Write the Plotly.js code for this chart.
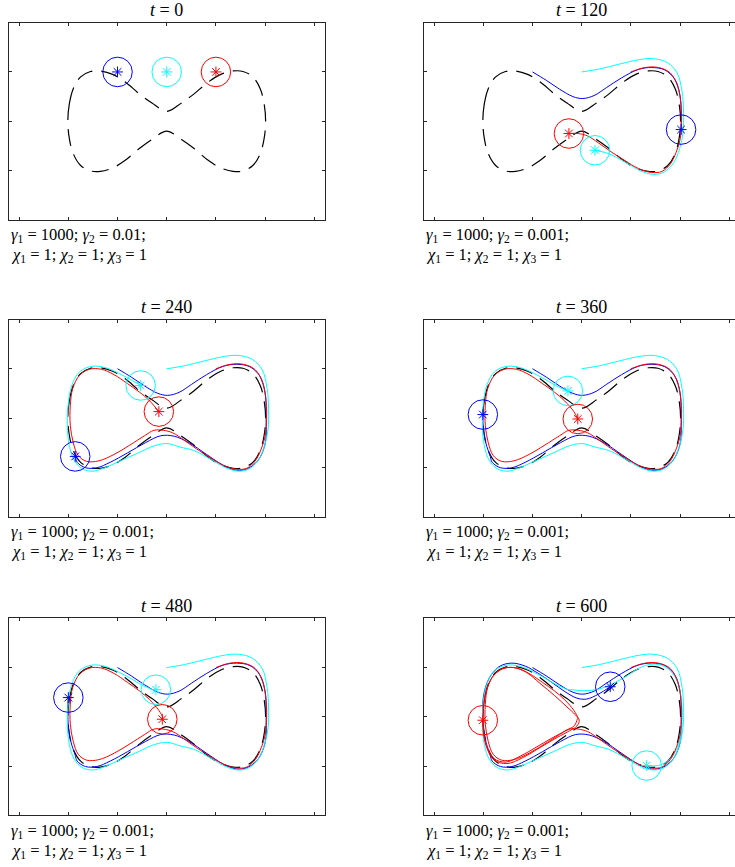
<!DOCTYPE html>
<html>
<head>
<meta charset="utf-8">
<script src="https://cdn.plot.ly/plotly-3.0.1.min.js"></script>
<style>
  html, body { margin: 0; padding: 0; background: #fff; }
  #chart { width: 735px; height: 867px; }
</style>
</head>
<body>
<div id="chart"></div>
<script>
// Snapshot times and controller gains shown under each panel
const snapshotTimes = [0, 120, 240, 360, 480, 600];
const gamma1Values = ['1000', '1000', '1000', '1000', '1000', '1000'];
const gamma2Values = ['0.01', '0.001', '0.001', '0.001', '0.001', '0.001'];
const chiValues = ['1', '1', '1'];

// Reference path (closed peanut-shaped loop)
const refX = [-2.01, -1.98, -1.9, -1.75, -1.55, -1.35, -1.1, -0.85, -0.55, -0.3, 0, 0.3, 0.55, 0.85, 1.1, 1.35, 1.55, 1.75, 1.9, 1.98, 2.01,
              1.98, 1.9, 1.75, 1.55, 1.35, 1.1, 0.85, 0.55, 0.3, 0, -0.3, -0.55, -0.85, -1.1, -1.35, -1.55, -1.75, -1.9, -1.98, -2.01];
const refY = [0, 0.35, 0.66, 0.9, 1.01, 1.02, 0.95, 0.8, 0.55, 0.37, 0.2, 0.37, 0.55, 0.8, 0.95, 1.02, 1.01, 0.9, 0.66, 0.35, 0,
              -0.35, -0.66, -0.9, -1.01, -1.02, -0.95, -0.8, -0.55, -0.37, -0.2, -0.37, -0.55, -0.8, -0.95, -1.02, -1.01, -0.9, -0.66, -0.35, 0];

// Agent 1 (blue) trajectory and the sample index reached at each snapshot time
const blueX = [-1.0, -0.72, -0.45, -0.18, 0.02, 0.25, 0.5, 0.81, 1.15, 1.42, 1.69, 1.9, 2.0, 2.02, 2.02,
               2.02, 1.96, 1.84, 1.64, 1.42, 1.15, 0.81, 0.45, 0.15, -0.12, -0.43, -0.8, -1.15, -1.42, -1.65, -1.82, -1.86,
               -1.95, -2.0, -2.01,
               -2.01, -2.0,
               -1.95, -1.84, -1.66, -1.42, -1.15, -0.88, -0.61, -0.34, -0.1, 0.1, 0.34, 0.58];
const blueY = [1.0, 0.83, 0.65, 0.5, 0.46, 0.52, 0.68, 0.88, 1.05, 1.09, 1.04, 0.84, 0.51, 0.17, -0.17,
               -0.4, -0.66, -0.88, -1.03, -1.06, -0.96, -0.74, -0.5, -0.37, -0.36, -0.5, -0.71, -0.9, -1.01, -1.01, -0.9, -0.78,
               -0.5, -0.2, 0.07,
               0.25, 0.39,
               0.62, 0.85, 1.03, 1.09, 1.03, 0.88, 0.7, 0.51, 0.38, 0.36, 0.46, 0.61];
const blueIdx = [0, 14, 31, 34, 36, 48];

// Agent 2 (cyan)
const cyanX = [0.0, 0.36, 0.77, 1.17, 1.46, 1.74, 1.94, 2.04, 2.07, 2.06, 1.99, 1.87, 1.68, 1.46, 1.2, 0.9, 0.55, 0.27,
               0.02, -0.24, -0.58, -0.92, -1.26, -1.5, -1.72, -1.88, -1.98, -2.02, -2.0, -1.93, -1.77, -1.52, -1.24, -0.96, -0.7, -0.53,
               -0.4, -0.28,
               -0.22,
               0.05, 0.34, 0.62, 0.9, 1.17, 1.43, 1.69, 1.9, 2.01, 2.04, 2.01, 1.91, 1.76, 1.56, 1.32];
const cyanY = [1.0, 1.06, 1.16, 1.25, 1.27, 1.19, 0.98, 0.6, 0.18, -0.22, -0.56, -0.84, -1.03, -1.08, -1.01, -0.84, -0.66, -0.59,
               -0.52, -0.56, -0.71, -0.86, -1.01, -1.08, -1.03, -0.86, -0.56, -0.15, 0.3, 0.66, 0.94, 1.05, 1.02, 0.9, 0.76, 0.66,
               0.6, 0.55,
               0.55,
               0.53, 0.56, 0.67, 0.82, 0.99, 1.07, 1.02, 0.81, 0.46, 0.0, -0.42, -0.69, -0.89, -0.99, -0.99];
const cyanIdx = [0, 17, 35, 37, 38, 53];

// Agent 3 (red)
const redX = [1.0, 1.29, 1.56, 1.8, 1.95, 2.02, 2.03, 2.0, 1.92, 1.8, 1.63, 1.42, 1.15, 0.88, 0.61, 0.34, 0.12, -0.07, -0.26,
              -0.45, -0.75, -1.07, -1.38, -1.63, -1.8, -1.9, -1.96, -1.96, -1.91, -1.77, -1.57, -1.33, -1.07, -0.8, -0.56, -0.35, -0.16,
              -0.08,
              -0.09,
              -0.15, -0.32, -0.62, -0.93, -1.25, -1.55, -1.78, -1.93, -2.0, -2.0, -1.95, -1.82, -1.62, -1.38, -1.12, -0.85, -0.55, -0.3, -0.13, -0.05,
              -0.1, -0.24, -0.5, -0.84, -1.2, -1.52, -1.79, -1.94, -2.0, -2.01];
const redY = [1.0, 1.09, 1.09, 0.98, 0.71, 0.33, -0.05, -0.37, -0.63, -0.87, -1.02, -1.04, -0.96, -0.8, -0.63, -0.44, -0.3, -0.25, -0.25,
              -0.36, -0.55, -0.74, -0.87, -0.88, -0.76, -0.5, -0.15, 0.25, 0.6, 0.87, 0.99, 0.99, 0.88, 0.7, 0.53, 0.35, 0.13,
              -0.02,
              -0.05,
              -0.18, -0.28, -0.44, -0.62, -0.8, -0.92, -0.85, -0.6, -0.25, 0.15, 0.5, 0.8, 0.97, 1.0, 0.9, 0.68, 0.43, 0.2, 0.04, -0.07,
              -0.19, -0.28, -0.42, -0.62, -0.83, -0.95, -0.87, -0.6, -0.3, -0.07];
const redIdx = [0, 18, 36, 37, 38, 68];

// Sensing radius drawn around each agent
const sensingRadius = 0.3;

// Axis ticks (no labels shown)
const xTicks = [-3, -2, -1, 0, 1, 2, 3];
const yTicks = [-1, 0, 1];

// ---- styling / geometry ----
const W = 735, H = 867;
const colLeftPx = [9.3, 424.3];
const colRightPx = [325, 735];
const xRanges = [[-3.2, 3.217], [-3.2, 3.116]];
const rowTopPx = [22.7, 319.5, 618.3];
const boxH = 197;
const axisColor = '#262626';
const serif = "'Liberation Serif', 'DejaVu Serif', serif";

const agents = [
  { x: blueX, y: blueY, idx: blueIdx, color: '#0000ff' },
  { x: cyanX, y: cyanY, idx: cyanIdx, color: '#00ffff' },
  { x: redX,  y: redY,  idx: redIdx,  color: '#ff0000' }
];

const traces = [];
const shapes = [];
const annotations = [];
const layout = {
  width: W, height: H,
  margin: { l: 0, r: 0, t: 0, b: 0 },
  paper_bgcolor: '#fff', plot_bgcolor: '#fff',
  showlegend: false
};

const nb = '\u00a0';

snapshotTimes.forEach((t, p) => {
  const row = Math.floor(p / 2), col = p % 2;
  const suffix = p === 0 ? '' : String(p + 1);
  const xa = 'x' + suffix, ya = 'y' + suffix;

  const top = rowTopPx[row], bottom = top + boxH;
  layout['xaxis' + suffix] = {
    domain: [colLeftPx[col] / W, colRightPx[col] / W],
    range: xRanges[col],
    anchor: ya,
    tickvals: xTicks, showticklabels: false,
    ticks: 'inside', ticklen: 3, tickwidth: 1, tickcolor: axisColor,
    showline: true, linecolor: axisColor, linewidth: 1, mirror: 'ticks',
    showgrid: false, zeroline: false, fixedrange: true
  };
  layout['yaxis' + suffix] = {
    domain: [1 - bottom / H, 1 - top / H],
    range: [-2, 2],
    anchor: xa,
    tickvals: yTicks, showticklabels: false,
    ticks: 'inside', ticklen: 3, tickwidth: 1, tickcolor: axisColor,
    showline: true, linecolor: axisColor, linewidth: 1, mirror: col === 0 ? 'ticks' : false,
    showgrid: false, zeroline: false, fixedrange: true
  };

  // reference path
  traces.push({
    x: refX, y: refY, xaxis: xa, yaxis: ya, type: 'scatter', mode: 'lines',
    line: { color: '#000', width: 1.2, dash: '17px,9px', shape: 'spline', smoothing: 1 },
    hoverinfo: 'skip'
  });

  // trajectories up to this snapshot
  agents.forEach(a => {
    const k = a.idx[p];
    if (k > 0) {
      traces.push({
        x: a.x.slice(0, k + 1), y: a.y.slice(0, k + 1), xaxis: xa, yaxis: ya,
        type: 'scatter', mode: 'lines',
        line: { color: a.color, width: 1, shape: 'spline', smoothing: 1 },
        hoverinfo: 'skip'
      });
    }
  });

  // current positions
  agents.forEach(a => {
    const k = a.idx[p];
    traces.push({
      x: [a.x[k]], y: [a.y[k]], xaxis: xa, yaxis: ya, type: 'scatter', mode: 'markers',
      marker: { symbol: 'asterisk-open', size: 9, color: a.color, line: { color: a.color, width: 1 } },
      hoverinfo: 'skip'
    });
    shapes.push({
      type: 'circle', xref: xa, yref: ya,
      x0: a.x[k] - sensingRadius, x1: a.x[k] + sensingRadius,
      y0: a.y[k] - sensingRadius, y1: a.y[k] + sensingRadius,
      line: { color: a.color, width: 1 }
    });
  });

  // panel title, centred on x = 0 of the panel
  const span = xRanges[col][1] - xRanges[col][0];
  const cx = (colLeftPx[col] + (-xRanges[col][0]) / span * (colRightPx[col] - colLeftPx[col])) / W;
  annotations.push({
    xref: 'paper', yref: 'paper', x: cx, y: 1 - (top - 12.5) / H,
    xanchor: 'center', yanchor: 'middle', showarrow: false,
    text: '<i>t</i>' + nb + '=' + nb + t,
    font: { family: serif, size: 18, color: '#000' }
  });

  // gain parameters under the panel
  annotations.push({
    xref: 'paper', yref: 'paper', x: colLeftPx[col] / W, y: 1 - (bottom + 15.5) / H,
    xanchor: 'left', yanchor: 'middle', showarrow: false,
    text: '<i>γ</i><sub>1</sub>' + nb + '=' + nb + gamma1Values[p] + '; <i>γ</i><sub>2</sub>' + nb + '=' + nb + gamma2Values[p] + ';',
    font: { family: serif, size: 16.5, color: '#000' }
  });
  annotations.push({
    xref: 'paper', yref: 'paper', x: colLeftPx[col] / W, y: 1 - (bottom + 35.5) / H,
    xanchor: 'left', yanchor: 'middle', showarrow: false,
    text: chiValues.map((v, i) => '<i>χ</i><sub>' + (i + 1) + '</sub>' + nb + '=' + nb + v).join('; '),
    font: { family: serif, size: 16.5, color: '#000' }
  });
});

layout.shapes = shapes;
layout.annotations = annotations;

Plotly.newPlot('chart', traces, layout, { staticPlot: true, displayModeBar: false });
</script>
</body>
</html>
